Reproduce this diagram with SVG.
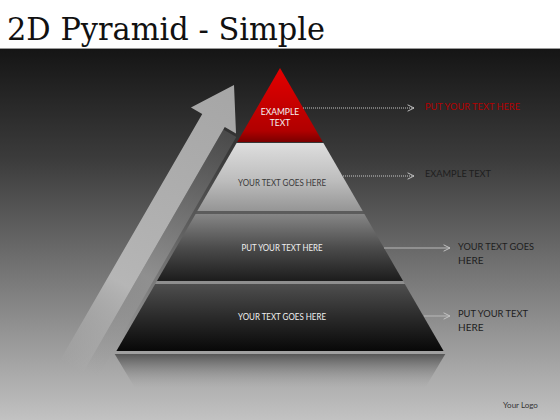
<svg xmlns="http://www.w3.org/2000/svg" width="560" height="420" viewBox="0 0 560 420">
<defs>
<linearGradient id="bg" x1="0" y1="49" x2="0" y2="420" gradientUnits="userSpaceOnUse">
<stop offset="0" stop-color="#151515"/>
<stop offset="0.3" stop-color="#3c3c3c"/>
<stop offset="0.65" stop-color="#7e7e7e"/>
<stop offset="1" stop-color="#c2c2c2"/>
</linearGradient>
<linearGradient id="gRed" x1="0" y1="0" x2="0" y2="1">
<stop offset="0" stop-color="#e40000"/>
<stop offset="0.85" stop-color="#b00000"/>
<stop offset="1" stop-color="#7a0000"/>
</linearGradient>
<linearGradient id="g2" x1="0" y1="0" x2="0" y2="1">
<stop offset="0" stop-color="#dedede"/>
<stop offset="0.55" stop-color="#bdbdbd"/>
<stop offset="1" stop-color="#959595"/>
</linearGradient>
<linearGradient id="g3" x1="0" y1="0" x2="0" y2="1">
<stop offset="0" stop-color="#868686"/>
<stop offset="0.5" stop-color="#4c4c4c"/>
<stop offset="1" stop-color="#1c1c1c"/>
</linearGradient>
<linearGradient id="g4" x1="0" y1="0" x2="0" y2="1">
<stop offset="0" stop-color="#4e4e4e"/>
<stop offset="0.5" stop-color="#2a2a2a"/>
<stop offset="1" stop-color="#080808"/>
</linearGradient>
<linearGradient id="gRef" x1="0" y1="0" x2="0" y2="1">
<stop offset="0" stop-color="#4a4a4a" stop-opacity="0.85"/>
<stop offset="1" stop-color="#9a9a9a" stop-opacity="0"/>
</linearGradient>
<linearGradient id="gArrow" x1="0" y1="0" x2="0" y2="1">
<stop offset="0" stop-color="#a6a6a6"/>
<stop offset="0.7" stop-color="#b9b9b9" stop-opacity="0.95"/>
<stop offset="1" stop-color="#c0c0c0" stop-opacity="0"/>
</linearGradient>
<linearGradient id="gShadow" x1="0" y1="0" x2="0" y2="1">
<stop offset="0" stop-color="#5a5a5a" stop-opacity="0.6"/>
<stop offset="0.6" stop-color="#9a9a9a" stop-opacity="0.7"/>
<stop offset="1" stop-color="#9a9a9a" stop-opacity="0"/>
</linearGradient>
<marker id="chev" viewBox="0 0 10 10" refX="9" refY="5" markerWidth="8" markerHeight="8" markerUnits="userSpaceOnUse" orient="auto">
<path d="M1,1 L9,5 L1,9" fill="none" stroke="#c4c4c4" stroke-width="1.2"/>
</marker>
</defs>
<style>
.lbl{font-family:Lato,"Liberation Sans",sans-serif;}
.in{font-size:8.5px;text-anchor:middle;}
.out{font-size:10px;fill:#1e1e1e;}
.dot{stroke:#c8c8c8;stroke-width:1;stroke-dasharray:1 1;fill:none;}
.sol{stroke:#b8b8b8;stroke-width:1;fill:none;}
</style>
<rect x="0" y="0" width="560" height="420" fill="url(#bg)"/>
<rect x="0" y="0" width="560" height="48" fill="#ffffff"/>
<rect x="0" y="48" width="560" height="1" fill="#9a9a9a"/>
<text x="7" y="40" font-family="'DejaVu Serif','Liberation Serif',serif" font-size="32" fill="#111" textLength="318" lengthAdjust="spacingAndGlyphs">2D Pyramid - Simple</text>

<g id="arrow">
<g transform="translate(234,85) rotate(30)">
<polygon points="13,44 28,44 28,320 13,320" fill="url(#gShadow)"/>
<polygon points="0,0 26,41 13,41 13,325 -13,325 -13,41 -26,41" fill="url(#gArrow)"/>
</g>
</g>

<g id="reflection">
<polygon points="114.7,354 445.3,354 425,388 135,388" fill="url(#gRef)"/>
</g>

<g id="tier1">
<polygon points="280,68 322.8,142 237.2,142" fill="url(#gRed)"/>
<text class="lbl in" x="280" y="115" fill="#f4f4f4" font-size="8.5">EXAMPLE</text>
<text class="lbl in" x="280" y="126" fill="#f4f4f4" font-size="8.5">TEXT</text>
</g>
<g id="tier2">
<polygon points="236.6,143 323.4,143 362.7,211 197.3,211" fill="url(#g2)"/>
<polygon points="197.3,211 362.7,211 364.4,214 195.6,214" fill="#5c5c5c"/>
<text class="lbl in" x="282" y="186" fill="#3a3a3a" textLength="88" lengthAdjust="spacingAndGlyphs">YOUR TEXT GOES HERE</text>
</g>
<g id="tier3">
<polygon points="195.6,214 364.4,214 403.1,281 156.9,281" fill="url(#g3)"/>
<polygon points="156.9,281 403.1,281 404.8,284 155.2,284" fill="#8e8e8e"/>
<text class="lbl in" x="282" y="251" fill="#f0f0f0" textLength="81" lengthAdjust="spacingAndGlyphs">PUT YOUR TEXT HERE</text>
</g>
<g id="tier4">
<polygon points="155.2,284 404.8,284 443.6,351 116.4,351" fill="url(#g4)"/>
<polygon points="116.4,351 443.6,351 445.3,354 114.7,354" fill="#a0a0a0"/>
<text class="lbl in" x="282" y="320" fill="#f0f0f0" textLength="88" lengthAdjust="spacingAndGlyphs">YOUR TEXT GOES HERE</text>
</g>

<g id="connectors">
<line class="dot" x1="303" y1="108" x2="414" y2="108" marker-end="url(#chev)"/>
<line class="dot" x1="343" y1="176" x2="414" y2="176" marker-end="url(#chev)"/>
<line class="sol" x1="384" y1="248" x2="450" y2="248" marker-end="url(#chev)"/>
<line class="sol" x1="424" y1="316" x2="450" y2="316" marker-end="url(#chev)"/>
</g>

<g id="label1"><text class="lbl" x="425" y="110" font-size="9.5" fill="#b40000" textLength="95" lengthAdjust="spacingAndGlyphs">PUT YOUR TEXT HERE</text></g>
<g id="label2"><text class="lbl out" x="425" y="177" textLength="66" lengthAdjust="spacingAndGlyphs">EXAMPLE TEXT</text></g>
<g id="label3"><text class="lbl out" x="458" y="250" textLength="76" lengthAdjust="spacingAndGlyphs">YOUR TEXT GOES</text><text class="lbl out" x="458" y="264">HERE</text></g>
<g id="label4"><text class="lbl out" x="458" y="317" textLength="70" lengthAdjust="spacingAndGlyphs">PUT YOUR TEXT</text><text class="lbl out" x="458" y="331">HERE</text></g>

<text class="lbl" x="503" y="408" font-size="8" fill="#333">Your Logo</text>
</svg>
